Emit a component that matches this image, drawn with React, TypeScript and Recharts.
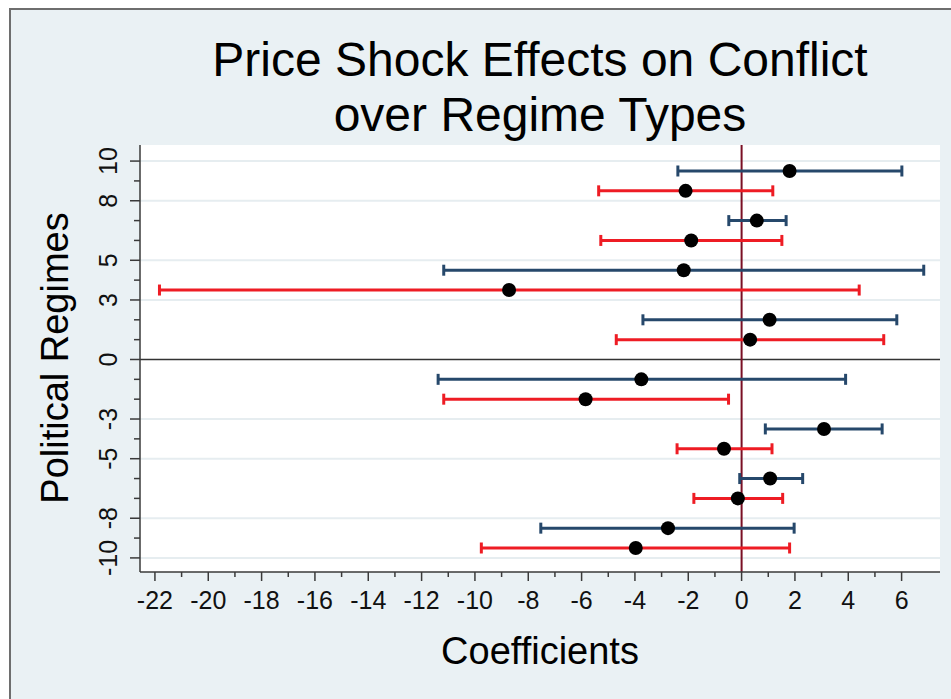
import React from "react";
import {
  ScatterChart,
  Scatter,
  XAxis,
  YAxis,
  ErrorBar,
  ReferenceLine,
  CartesianGrid,
} from "recharts";

// regime positions (y), point estimates and 95% bounds
const BLUE_Y = [9.5, 7, 4.5, 2, -1, -3.5, -6, -8.5];
const BLUE_COEF = [1.8, 0.57, -2.17, 1.05, -3.76, 3.09, 1.07, -2.76];
const BLUE_LOW = [-2.39, -0.48, -11.17, -3.7, -11.38, 0.89, -0.07, -7.53];
const BLUE_HIGH = [6.01, 1.67, 6.83, 5.82, 3.9, 5.27, 2.29, 1.97];

const RED_Y = [8.5, 6, 3.5, 1, -2, -4.5, -7, -9.5];
const RED_COEF = [-2.1, -1.89, -8.72, 0.32, -5.85, -0.66, -0.14, -3.97];
const RED_LOW = [-5.36, -5.28, -21.83, -4.7, -11.17, -2.42, -1.79, -9.76];
const RED_HIGH = [1.17, 1.51, 4.41, 5.33, -0.49, 1.14, 1.54, 1.8];

const X_TICKS = [
  -22, -21, -20, -19, -18, -17, -16, -15, -14, -13, -12, -11, -10, -9, -8,
  -7, -6, -5, -4, -3, -2, -1, 0, 1, 2, 3, 4, 5, 6,
];
const Y_TICKS = [
  -10, -9, -8, -7, -6, -5, -4, -3, -2, -1, 0, 1, 2, 3, 4, 5, 6, 7, 8, 9, 10,
];
const Y_LABELED = [10, 8, 5, 3, 0, -3, -5, -8, -10];
const GRID_Y = [10, 8, 5, 3, -3, -5, -8, -10];

const FONT = '"Liberation Sans", Arial, sans-serif';
const BLUE = "#26486b";
const RED = "#ee1c24";
const AXIS = "#3a3a3a";

function toRows(ys: number[], coef: number[], low: number[], high: number[]) {
  return ys.map((y, i) => ({
    y,
    coef: coef[i],
    err: [coef[i] - low[i], high[i] - coef[i]],
  }));
}

const blueData = toRows(BLUE_Y, BLUE_COEF, BLUE_LOW, BLUE_HIGH);
const redData = toRows(RED_Y, RED_COEF, RED_LOW, RED_HIGH);

function XTick({ x, y, payload }: any) {
  const v = payload.value;
  const major = v % 2 === 0;
  const top = y - 19; // axis line (tickSize 9 + tickMargin 10)
  return (
    <g>
      <line x1={x} x2={x} y1={top} y2={top + (major ? 9 : 5)} stroke={AXIS} strokeWidth={1.5} />
      {major && (
        <text x={x} y={y + 18} textAnchor="middle" fontSize={25} fontFamily={FONT} fill="#111">
          {v}
        </text>
      )}
    </g>
  );
}

function YTick({ x, y, payload }: any) {
  const v = payload.value;
  const major = Y_LABELED.includes(v);
  const right = x + 23; // axis line (tickSize 9 + tickMargin 14)
  return (
    <g>
      <line x1={right - (major ? 10 : 6)} x2={right} y1={y} y2={y} stroke={AXIS} strokeWidth={1.5} />
      {major && (
        <text
          x={x}
          y={y}
          transform={`rotate(-90, ${x}, ${y})`}
          textAnchor="middle"
          fontSize={25}
          fontFamily={FONT}
          fill="#111"
        >
          {v}
        </text>
      )}
    </g>
  );
}

const Dot = (props: any) => <circle cx={props.cx} cy={props.cy} r={7} fill="#000" />;

export default function App() {
  return (
    <div
      style={{
        position: "absolute",
        left: 0,
        top: 0,
        width: 951,
        height: 699,
        overflow: "hidden",
        background: "#fff",
        fontFamily: FONT,
      }}
    >
      <div
        style={{
          position: "absolute",
          left: 9,
          top: 8,
          width: 960,
          height: 710,
          border: "2px solid #6e6e6e",
          background: "#eaf1f4",
        }}
      />
      <div style={{ position: "absolute", left: 0, top: 0 }}>
        <ScatterChart width={951} height={699} margin={{ top: 145, right: 11, bottom: 67, left: 0 }}>
          <CartesianGrid horizontal={false} vertical={false} fill="#ffffff" />
          <XAxis
            type="number"
            dataKey="coef"
            domain={[-22.56, 7.44]}
            allowDataOverflow
            ticks={X_TICKS}
            interval={0}
            tick={<XTick />}
            tickLine={false}
            tickSize={9}
            tickMargin={10}
            height={60}
            axisLine={{ stroke: AXIS, strokeWidth: 1.5 }}
          />
          <YAxis
            type="number"
            dataKey="y"
            domain={[-10.71, 10.81]}
            allowDataOverflow
            ticks={Y_TICKS}
            interval={0}
            tick={<YTick />}
            tickLine={false}
            tickSize={9}
            tickMargin={14}
            width={140}
            axisLine={{ stroke: AXIS, strokeWidth: 1.5 }}
          />
          {GRID_Y.map((v) => (
            <ReferenceLine key={v} y={v} stroke="#e6edf0" strokeWidth={2} />
          ))}
          <ReferenceLine y={0} stroke="#333" strokeWidth={1.5} />
          <ReferenceLine x={0} stroke="#7a0f24" strokeWidth={2} />
          <Scatter data={blueData} shape={<Dot />} isAnimationActive={false}>
            <ErrorBar dataKey="err" direction="x" stroke={BLUE} strokeWidth={3} width={5.5} isAnimationActive={false} />
          </Scatter>
          <Scatter data={redData} shape={<Dot />} isAnimationActive={false}>
            <ErrorBar dataKey="err" direction="x" stroke={RED} strokeWidth={3} width={5.5} isAnimationActive={false} />
          </Scatter>
        </ScatterChart>
      </div>
      <svg
        width={951}
        height={699}
        style={{ position: "absolute", left: 0, top: 0, pointerEvents: "none" }}
      >
        <text x={540} y={76} textAnchor="middle" fontSize={48} fontFamily={FONT} fill="#000">
          Price Shock Effects on Conflict
        </text>
        <text x={540} y={131} textAnchor="middle" fontSize={48} fontFamily={FONT} fill="#000">
          over Regime Types
        </text>
        <text x={540} y={664} textAnchor="middle" fontSize={38} fontFamily={FONT} fill="#000">
          Coefficients
        </text>
        <text
          x={68}
          y={358}
          transform="rotate(-90, 68, 358)"
          textAnchor="middle"
          fontSize={38}
          fontFamily={FONT}
          fill="#000"
        >
          Political Regimes
        </text>
      </svg>
    </div>
  );
}
